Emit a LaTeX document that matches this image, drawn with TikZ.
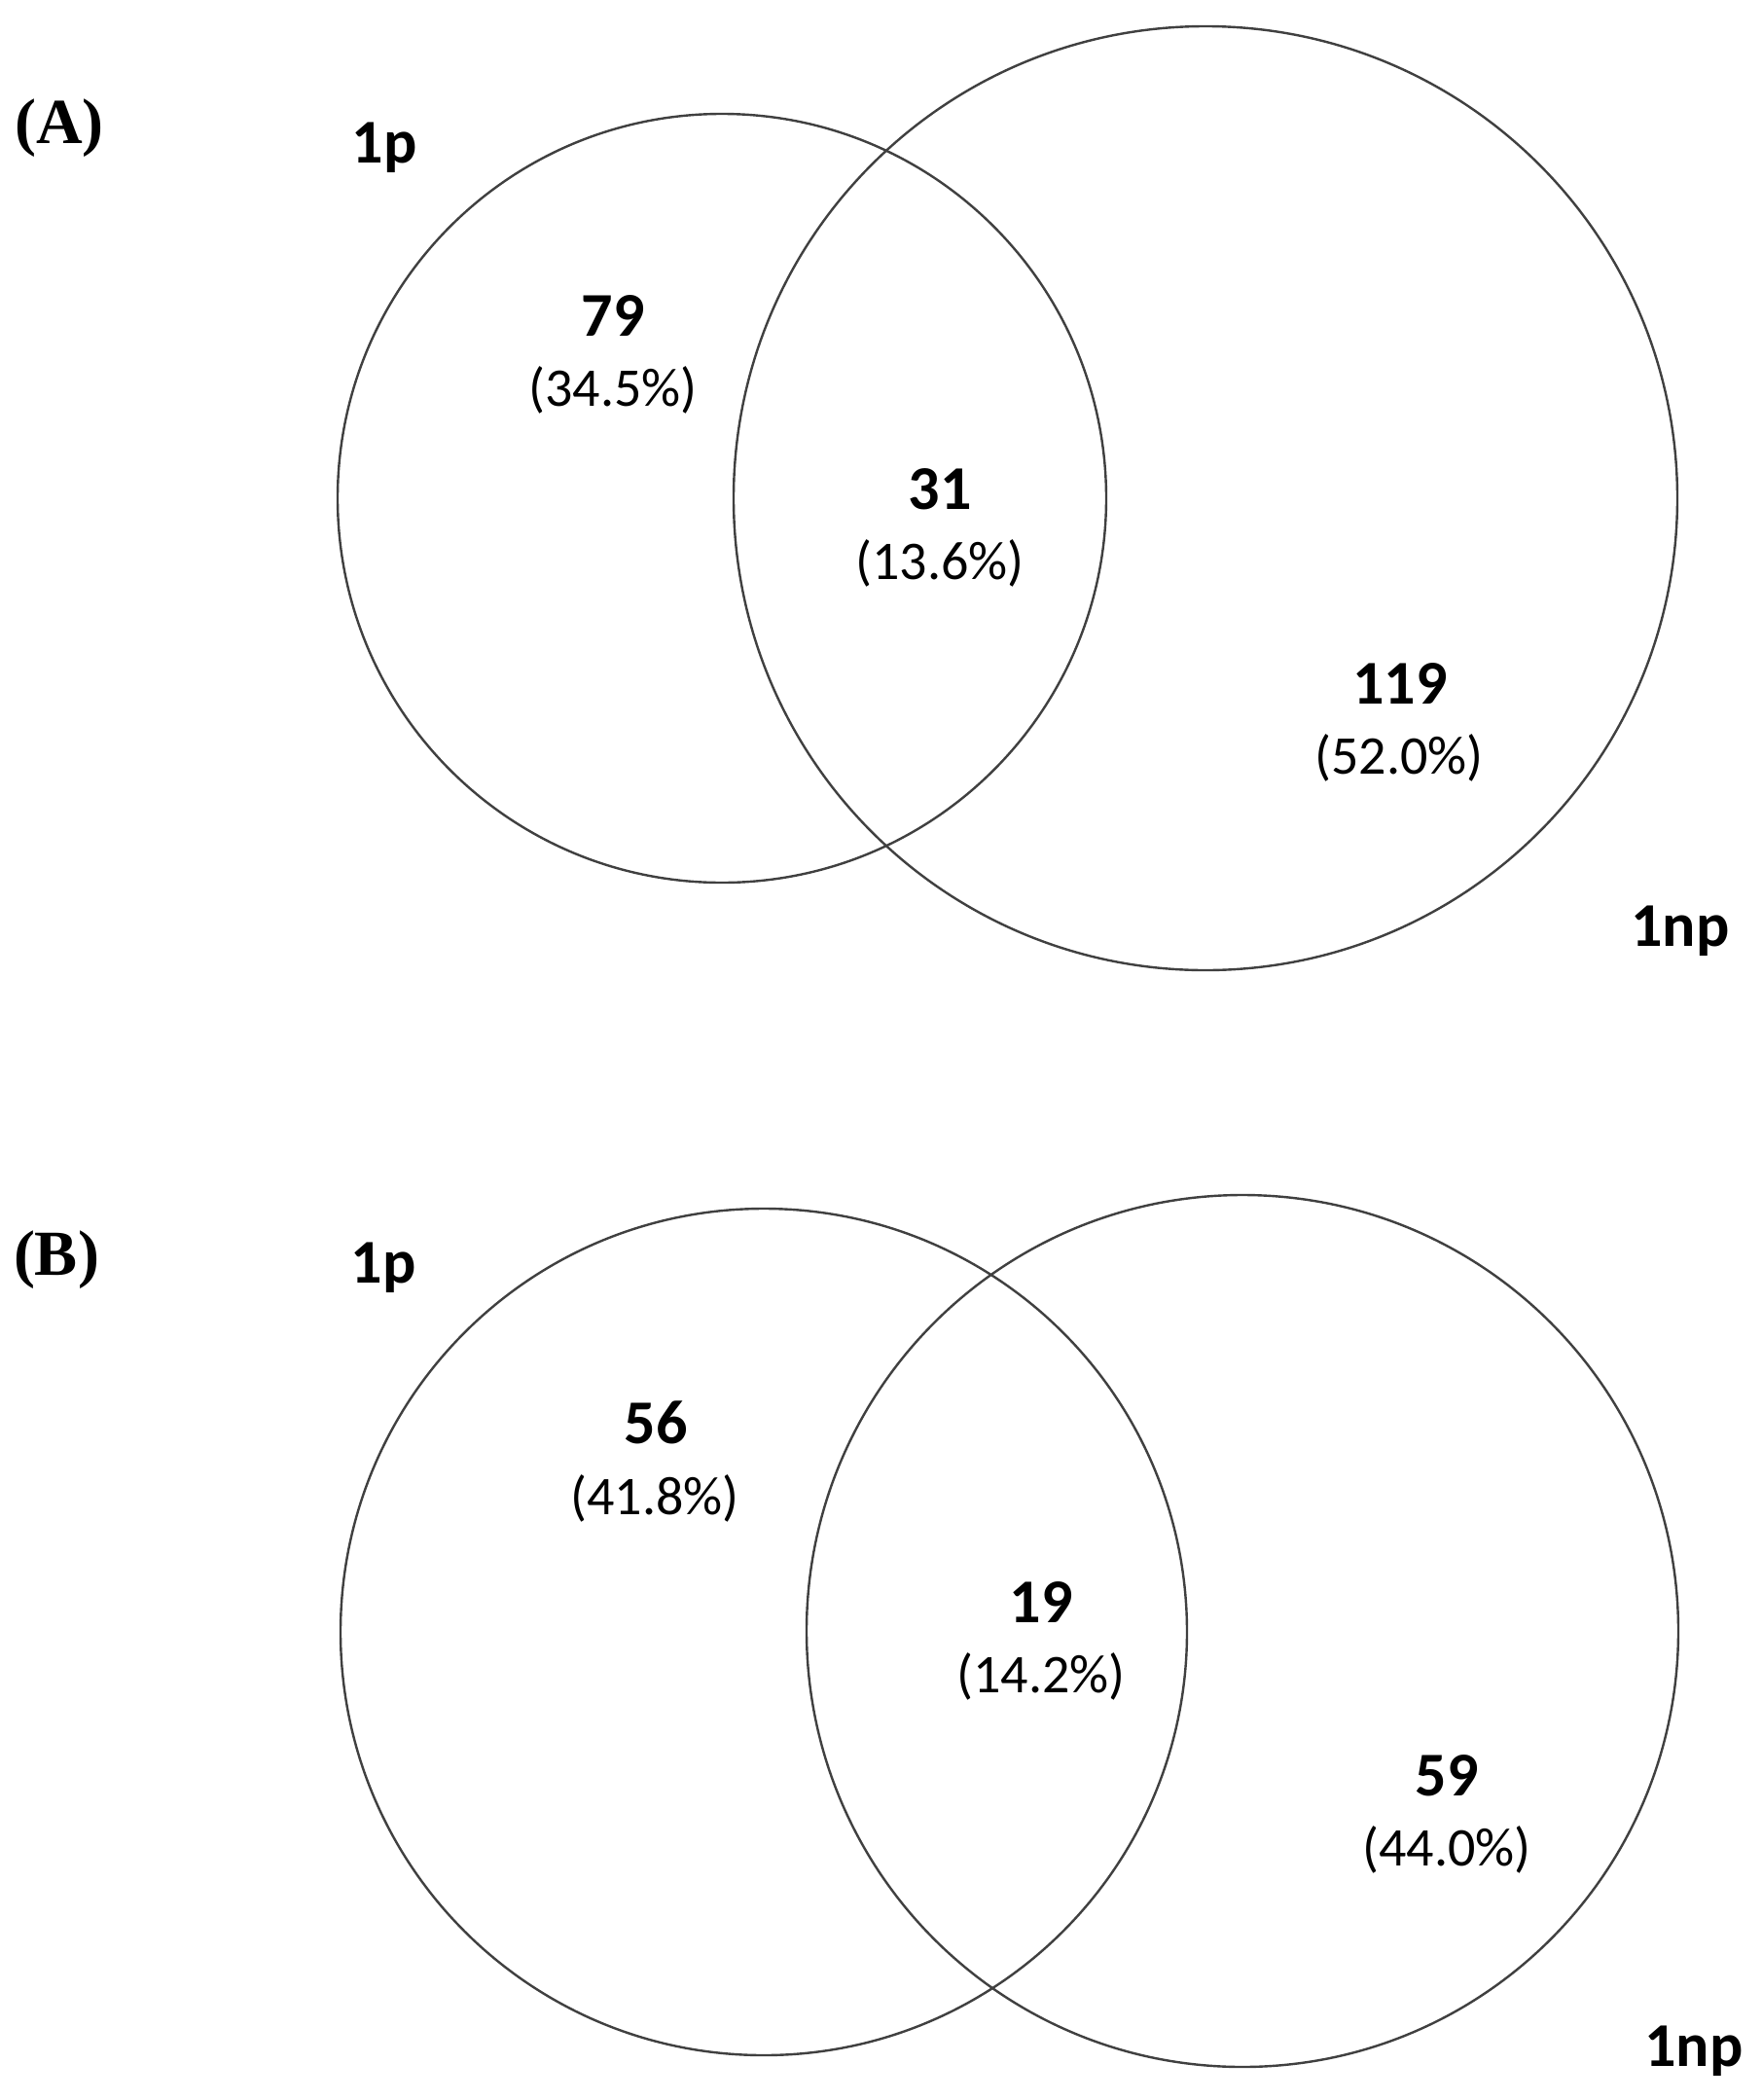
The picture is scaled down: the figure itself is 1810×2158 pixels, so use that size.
\documentclass[tikz,border=0pt]{standalone}
\usepackage{fontspec}
\setmainfont{Carlito}
\newfontfamily\tnr{Liberation Serif}
\tikzset{
  venn/.style={draw=black!75, line width=1.2pt},
  num/.style={anchor=base, inner sep=0pt, font=\fontsize{32}{38}\selectfont\bfseries},
  pct/.style={anchor=base, inner sep=0pt, font=\fontsize{28}{33}\selectfont},
  setlab/.style={anchor=base, inner sep=0pt, font=\fontsize{32}{38}\selectfont\bfseries},
  panel/.style={anchor=base, inner sep=0pt, font=\fontsize{33}{38}\selectfont\tnr\bfseries}
}
\begin{document}
\begin{tikzpicture}[x=0.5pt,y=-0.5pt]
\useasboundingbox[fill=white] (0,0) rectangle (1810,2158);
% Panel A
\draw[venn] (742,512) circle [radius=395];
\draw[venn] (1239,512) circle [radius=485];
\node[panel] (pa) at (61,147) {(A)};
\node[setlab] (a1p) at (395,167) {1p};
\node[setlab] (a1np) at (1727,972) {1np};
\node[num] (a79) at (630,345) {79};
\node[pct] (a79p) at (630,417) {(34.5\%)};
\node[num] (a31) at (966,523) {31};
\node[pct] (a31p) at (966,595) {(13.6\%)};
\node[num] (a119) at (1439,723) {119};
\node[pct] (a119p) at (1438,795) {(52.0\%)};
% Panel B
\draw[venn] (785,1677) circle [radius=435];
\draw[venn] (1277,1676) circle [radius=448];
\node[panel] (pb) at (58,1310) {(B)};
\node[setlab] (b1p) at (394,1318) {1p};
\node[setlab] (b1np) at (1741,2123) {1np};
\node[num] (b56) at (674,1483) {56};
\node[pct] (b56p) at (673,1556) {(41.8\%)};
\node[num] (b19) at (1070,1667) {19};
\node[pct] (b19p) at (1070,1739) {(14.2\%)};
\node[num] (b59) at (1487,1845) {59};
\node[pct] (b59p) at (1487,1917) {(44.0\%)};
\end{tikzpicture}
\end{document}
